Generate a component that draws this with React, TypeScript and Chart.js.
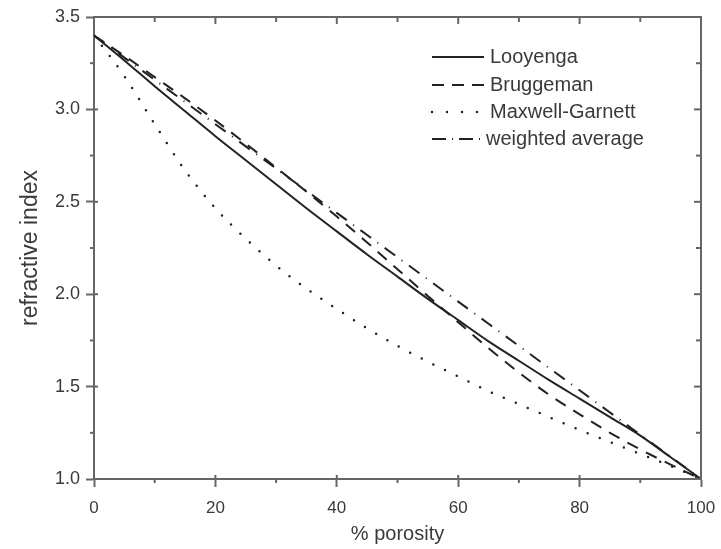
import { useEffect, useRef } from "react";
import { Chart, registerables } from "chart.js";

Chart.register(...registerables);

const porosity = [0, 5, 10, 15, 20, 25, 30, 35, 40, 45, 50, 55, 60, 65, 70, 75, 80, 85, 90, 95, 100];
const looyenga = [3.4, 3.265, 3.125, 2.99, 2.855, 2.725, 2.595, 2.465, 2.34, 2.215, 2.095, 1.975, 1.86, 1.745, 1.64, 1.535, 1.435, 1.335, 1.235, 1.118, 1.0];
const bruggeman = [3.4, 3.29, 3.175, 3.06, 2.94, 2.815, 2.685, 2.555, 2.42, 2.28, 2.135, 1.99, 1.848, 1.708, 1.576, 1.455, 1.35, 1.25, 1.16, 1.078, 1.0];
const maxwellGarnett = [3.4, 3.18, 2.92, 2.67, 2.465, 2.3, 2.155, 2.03, 1.92, 1.815, 1.72, 1.635, 1.555, 1.475, 1.405, 1.335, 1.265, 1.2, 1.135, 1.07, 1.0];
const weightedAverage = [3.4, 3.28, 3.16, 3.04, 2.92, 2.8, 2.68, 2.56, 2.44, 2.32, 2.2, 2.08, 1.96, 1.84, 1.72, 1.6, 1.48, 1.36, 1.24, 1.12, 1.0];

const seriesLabels = ["Looyenga", "Bruggeman", "Maxwell-Garnett", "weighted average"];
const xTicks = [0, 20, 40, 60, 80, 100];
const yTicks = [1.0, 1.5, 2.0, 2.5, 3.0, 3.5];

const LINE = "#222";
const AXIS = "#666";
const TEXT = "#3a3a3a";
const FONT = "'Liberation Sans', Arial, sans-serif";

const dashes: number[][] = [[], [12, 9], [0, 13], [13, 8, 1, 8]];
const legendDashes: number[][] = [[], [12, 8], [0, 15], [14, 6, 1, 6]];

const framePlugin = {
  id: "frameTicks",
  afterDraw(chart: any) {
    const { ctx, chartArea: a, scales } = chart;
    const x = scales.x;
    const y = scales.y;
    ctx.save();
    ctx.strokeStyle = AXIS;
    ctx.lineWidth = 2;
    ctx.setLineDash([]);
    const seg = (x1: number, y1: number, x2: number, y2: number) => {
      ctx.beginPath();
      ctx.moveTo(x1, y1);
      ctx.lineTo(x2, y2);
      ctx.stroke();
    };
    seg(a.left, a.top, a.right + 1, a.top);
    seg(a.right, a.top, a.right, a.bottom);
    for (let v = 0; v <= 100; v += 10) {
      const px = x.getPixelForValue(v);
      const major = v % 20 === 0;
      seg(px, a.top, px, a.top + (major ? 7 : 5));
      if (!major) seg(px, a.bottom, px, a.bottom + 4);
      else seg(px, a.bottom - 4, px, a.bottom);
    }
    for (let i = 0; i <= 10; i++) {
      const v = 1 + i * 0.25;
      const py = y.getPixelForValue(v);
      const major = i % 2 === 0;
      seg(a.right, py, a.right - (major ? 7 : 5), py);
      if (!major) seg(a.left - 4, py, a.left, py);
      else seg(a.left, py, a.left + 4, py);
    }
    ctx.restore();
  },
};

const legendPlugin = {
  id: "innerLegend",
  afterDraw(chart: any) {
    const { ctx } = chart;
    ctx.save();
    const ys = [57, 85, 112, 139];
    chart.data.datasets.forEach((ds: any, i: number) => {
      const yy = ys[i];
      const x0 = 432;
      const x1 = i === 2 ? 478 : 484;
      ctx.strokeStyle = LINE;
      ctx.lineWidth = i === 2 ? 2.5 : 2;
      ctx.lineCap = i === 2 ? "round" : "butt";
      ctx.setLineDash(legendDashes[i]);
      ctx.beginPath();
      ctx.moveTo(x0, yy);
      ctx.lineTo(x1, yy);
      ctx.stroke();
      ctx.setLineDash([]);
      ctx.fillStyle = TEXT;
      ctx.font = `20px ${FONT}`;
      ctx.textBaseline = "middle";
      ctx.textAlign = "left";
      ctx.fillText(ds.label, i === 3 ? 486 : 490, yy);
    });
    ctx.restore();
  },
};

export default function App() {
  const ref = useRef<HTMLCanvasElement | null>(null);

  useEffect(() => {
    if (!ref.current) return;
    const series = [looyenga, bruggeman, maxwellGarnett, weightedAverage];
    const chart = new Chart(ref.current, {
      type: "line",
      data: {
        datasets: series.map((arr, i) => ({
          label: seriesLabels[i],
          data: porosity.map((p, j) => ({ x: p, y: arr[j] })),
          borderColor: LINE,
          borderWidth: i === 2 ? 2.5 : 2,
          borderDash: dashes[i],
          borderCapStyle: i === 2 ? "round" : "butt",
          pointRadius: 0,
          fill: false,
          cubicInterpolationMode: "monotone",
        })),
      },
      options: {
        responsive: false,
        animation: false,
        events: [],
        layout: { padding: { left: 0, right: 20, top: 17, bottom: 0 } },
        plugins: { legend: { display: false }, tooltip: { enabled: false } },
        scales: {
          x: {
            type: "linear",
            min: 0,
            max: 100,
            afterFit: (s: any) => {
              s.height = 70;
              s.paddingLeft = 0;
              s.paddingRight = 0;
            },
            afterBuildTicks: (s: any) => {
              s.ticks = xTicks.map((v) => ({ value: v }));
            },
            ticks: {
              color: TEXT,
              font: { family: FONT, size: 17 },
              padding: 11,
              maxRotation: 0,
              callback: (v: any) => String(v),
            },
            grid: { display: true, drawOnChartArea: false, drawTicks: true, tickLength: 8, color: AXIS, tickWidth: 2 },
            border: { display: true, color: AXIS, width: 2 },
            title: {
              display: true,
              text: "% porosity",
              color: TEXT,
              font: { family: FONT, size: 20 },
              padding: { top: 0, bottom: 3 },
            },
          },
          y: {
            type: "linear",
            min: 1,
            max: 3.5,
            afterFit: (s: any) => {
              s.width = 94;
              s.paddingTop = 0;
              s.paddingBottom = 0;
            },
            afterBuildTicks: (s: any) => {
              s.ticks = yTicks.map((v) => ({ value: v }));
            },
            ticks: {
              color: TEXT,
              font: { family: FONT, size: 18 },
              padding: 6,
              callback: (v: any) => Number(v).toFixed(1),
            },
            grid: { display: true, drawOnChartArea: false, drawTicks: true, tickLength: 8, color: AXIS, tickWidth: 2 },
            border: { display: true, color: AXIS, width: 2 },
            title: {
              display: true,
              text: "refractive index",
              color: TEXT,
              font: { family: FONT, size: 23 },
              padding: { top: 17, bottom: 0 },
            },
          },
        },
      },
      plugins: [framePlugin, legendPlugin],
    } as any);
    return () => chart.destroy();
  }, []);

  return (
    <div style={{ position: "absolute", left: 0, top: 0, width: 721, height: 549, background: "#fff" }}>
      <canvas ref={ref} width={721} height={549} style={{ width: 721, height: 549 }} />
    </div>
  );
}
